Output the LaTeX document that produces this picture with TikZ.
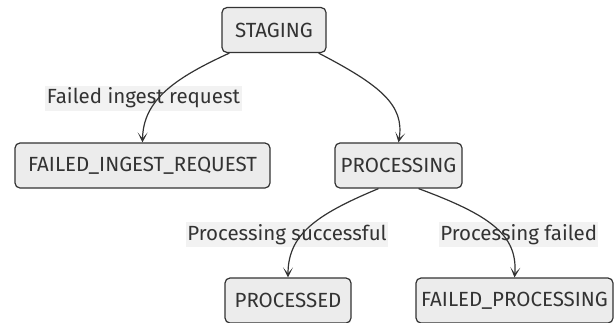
\documentclass[tikz,border=0pt]{standalone}
\usepackage{fontspec}
\setmainfont{Fira Sans}
\usetikzlibrary{arrows.meta}
\definecolor{boxfill}{HTML}{ECECEC}
\definecolor{boxline}{HTML}{333333}
\definecolor{lblbg}{HTML}{F2F2F2}
\definecolor{txt}{HTML}{333333}
\tikzset{
  state/.style={draw=boxline, fill=boxfill, line width=1.2pt, rounded corners=5pt,
    minimum height=45pt, inner xsep=4pt, font=\fontsize{20.5}{23}\selectfont, text=txt, anchor=center},
  elabel/.style={fill=lblbg, inner xsep=1pt, inner ysep=2pt, minimum height=25pt, font=\fontsize{20.5}{23}\selectfont, text=txt},
  conn/.style={draw=boxline, line width=1.2pt, -{Stealth[length=10pt,width=10pt,inset=6pt]}}
}
\begin{document}
\begin{tikzpicture}[x=1pt,y=-1pt]
\useasboundingbox (0,0) rectangle (615,322);
\node[state, minimum width=104pt] (staging) at (274,30) {STAGING};
\node[state, minimum width=255pt] (fir) at (142.5,165.5) {FAILED\_INGEST\_REQUEST};
\node[state, minimum width=127pt] (proc) at (398.5,165.5) {PROCESSING};
\node[state, minimum width=126pt] (done) at (288,300.5) {PROCESSED};
\node[state, minimum width=197pt] (fproc) at (514.5,300.5) {FAILED\_PROCESSING};
\node[elabel, minimum width=197pt] (l1) at (143.5,98) {Failed ingest request};
\node[elabel, minimum width=198pt] (l2) at (287,234.5) {Processing successful};
\node[elabel, minimum width=156pt] (l3) at (518.7,234.5) {Processing failed};
\draw[conn] (staging.south west) ++(8,0) coordinate (s1) .. controls (175,78) and (143,100) .. (fir.north);
\draw[conn] (staging.south east) ++(-8,0) coordinate (s2) .. controls (380,85) and (405,105) .. (proc.north);
\draw[conn] ([xshift=-20pt]proc.south) .. controls (315,215) and (288,235) .. (done.north);
\draw[conn] ([xshift=20pt]proc.south) .. controls (490,215) and (518,235) .. (fproc.north);
\end{tikzpicture}
\end{document}
